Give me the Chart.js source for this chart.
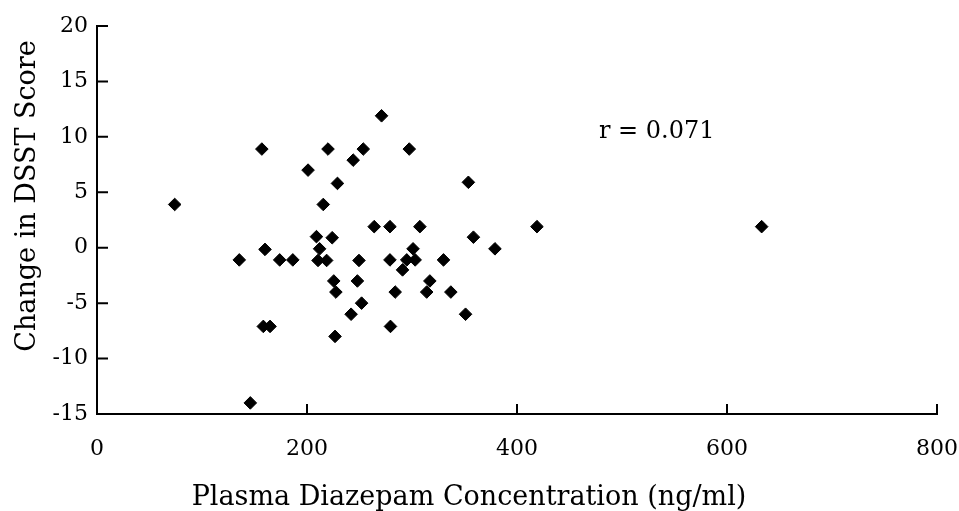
<!DOCTYPE html>
<html>
<head>
<meta charset="utf-8">
<script src="https://cdn.jsdelivr.net/npm/chart.js@4/dist/chart.umd.min.js"></script>
<style>
  html, body { margin: 0; padding: 0; background: #fff; }
</style>
</head>
<body>
<canvas id="scatterChart" width="959" height="511"></canvas>
<script>
// plasma diazepam concentration (ng/ml) per subject
const concentration = [
    74, 135.5, 146, 157, 160, 158.4, 164.8, 174, 186.5, 201,
    209, 212, 210.5, 215.5, 218.7, 220, 224, 225.5, 227.5, 226.7,
    229, 242, 244, 248, 249.5, 252, 253.6, 264, 271, 279,
    279, 279.5, 284, 291, 295, 297.4, 301, 303, 307.5, 314,
    317, 330, 337, 351, 353.7, 358.5, 379, 419, 633
];
// change in DSST score, same order
const dsstChange = [
    3.9, -1.1, -14.0, 8.9, -0.15, -7.1, -7.1, -1.1, -1.1, 7.0,
    1.0, -0.1, -1.15, 3.9, -1.15, 8.9, 0.9, -3.0, -4.0, -8.0,
    5.8, -6.0, 7.9, -3.0, -1.15, -5.0, 8.9, 1.9, 11.9, 1.9,
    -1.1, -7.1, -4.0, -2.0, -1.1, 8.9, -0.1, -1.1, 1.9, -4.0,
    -3.0, -1.1, -4.0, -6.0, 5.9, 0.95, -0.1, 1.9, 1.9
];
const xTicks = [0, 200, 400, 600, 800];
const yTicks = [-15, -10, -5, 0, 5, 10, 15, 20];
const xTitle = 'Plasma Diazepam Concentration (ng/ml)';
const yTitle = 'Change in DSST Score';
const rLabel = 'r = 0.071';

const serif = '"DejaVu Serif", serif';

// inward tick marks, the r value and the axis titles
const axisExtras = {
    id: 'axisExtras',
    afterDraw(chart) {
        const { ctx, chartArea, scales: { x, y } } = chart;
        ctx.save();
        ctx.strokeStyle = '#000';
        ctx.lineWidth = 2;
        ctx.beginPath();
        xTicks.forEach(v => {
            const px = x.getPixelForValue(v);
            ctx.moveTo(px, chartArea.bottom);
            ctx.lineTo(px, chartArea.bottom - 10);
        });
        yTicks.forEach(v => {
            const py = y.getPixelForValue(v);
            ctx.moveTo(chartArea.left, py);
            ctx.lineTo(chartArea.left + 11, py);
        });
        ctx.stroke();

        ctx.fillStyle = '#000';
        ctx.font = '24px ' + serif;
        ctx.textAlign = 'left';
        ctx.textBaseline = 'alphabetic';
        ctx.fillText(rLabel, x.getPixelForValue(478), y.getPixelForValue(9.9));

        ctx.font = '27px ' + serif;
        ctx.textAlign = 'center';
        ctx.fillText(xTitle, 469, 505);

        ctx.translate(35, 196);
        ctx.rotate(-Math.PI / 2);
        ctx.fillText(yTitle, 0, 0);
        ctx.restore();
    }
};

function fixSize(prop, size) {
    return function (scale) {
        scale[prop] = size;
        scale.paddingLeft = scale.paddingRight = 0;
        scale.paddingTop = scale.paddingBottom = 0;
    };
}

new Chart(document.getElementById('scatterChart'), {
    type: 'scatter',
    data: {
        datasets: [{
            data: concentration.map((c, i) => ({ x: c, y: dsstChange[i] })),
            pointStyle: 'rectRot',
            pointRadius: 6.3,
            borderWidth: 1,
            backgroundColor: '#000',
            borderColor: '#000'
        }]
    },
    options: {
        responsive: false,
        animation: false,
        layout: { padding: { left: 0, top: 26, right: 22, bottom: 0 } },
        plugins: {
            legend: { display: false },
            tooltip: { enabled: false }
        },
        scales: {
            x: {
                type: 'linear',
                min: xTicks[0],
                max: xTicks[xTicks.length - 1],
                afterFit: fixSize('height', 97),
                grid: { display: false, drawTicks: false },
                border: { display: true, color: '#000', width: 2 },
                ticks: {
                    stepSize: xTicks[1] - xTicks[0],
                    padding: 22,
                    color: '#000',
                    maxRotation: 0,
                    font: { family: serif, size: 22 }
                }
            },
            y: {
                min: yTicks[0],
                max: yTicks[yTicks.length - 1],
                afterFit: fixSize('width', 97),
                grid: { display: false, drawTicks: false },
                border: { display: true, color: '#000', width: 2 },
                ticks: {
                    stepSize: yTicks[1] - yTicks[0],
                    padding: 9,
                    color: '#000',
                    font: { family: serif, size: 22 }
                }
            }
        }
    },
    plugins: [axisExtras]
});
</script>
</body>
</html>
